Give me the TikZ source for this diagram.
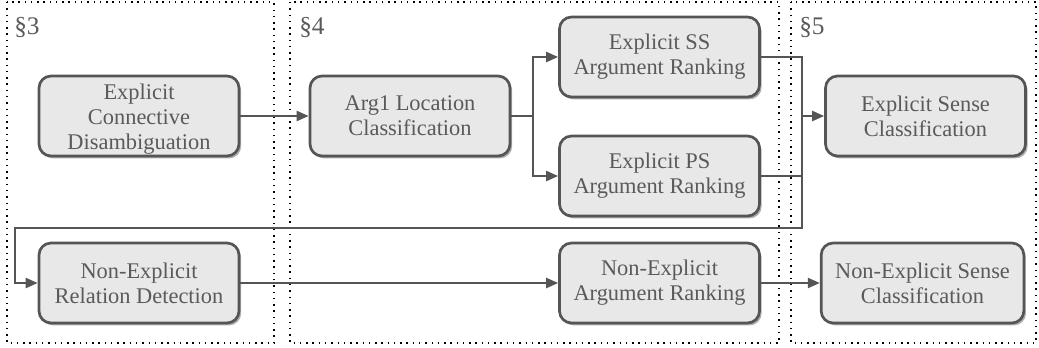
\documentclass[tikz,border=0pt]{standalone}
\usepackage{fontspec}
\setmainfont{Liberation Serif}
\usetikzlibrary{arrows.meta,shadows}
\definecolor{ink}{HTML}{555555}
\definecolor{boxfill}{HTML}{E8E8E8}
\definecolor{txt}{HTML}{5A5A5A}
\tikzset{
  stage/.style={draw=ink, line width=2pt, fill=boxfill, rounded corners=9pt,
    minimum width=150pt, minimum height=60pt, inner sep=0pt, align=center,
    text=txt, font=\fontsize{16.8}{18.6}\selectfont,
    drop shadow={shadow xshift=1.6pt, shadow yshift=-1.8pt, opacity=0.45, fill=black!70}},
  conn/.style={draw=ink, line width=1.7pt},
  arr/.style={conn, -{Triangle[length=9pt,width=7.5pt]}},
  region/.style={draw=black, line width=1.1pt, dash pattern=on 1.1pt off 3.6pt},
  seclabel/.style={text=txt, font=\fontsize{19}{20}\selectfont, anchor=west, inner sep=0pt}
}
\begin{document}
\begin{tikzpicture}[x=0.75pt,y=-0.75pt]
\useasboundingbox (0,0) rectangle (1039,347);
% regions
\draw[region] (7,2) rectangle (274,343);
\draw[region] (290,2) rectangle (779,343);
\draw[region] (791,2) rectangle (1036,343);
\node[seclabel] (s3) at (14,27) {§3};
\node[seclabel] (s4) at (299,27) {§4};
\node[seclabel] (s5) at (799,27) {§5};
% stages
\node[stage] (ecd) at (139,116) {\rule{0pt}{16pt}Explicit\\Connective\\Disambiguation};
\node[stage] (arg1) at (410,116) {Arg1 Location\\Classification};
\node[stage] (ss) at (659.5,57) {Explicit SS\\Argument Ranking};
\node[stage] (ps) at (659.5,176) {Explicit PS\\Argument Ranking};
\node[stage] (esc) at (925.5,116) {Explicit Sense\\Classification};
\node[stage] (nerd) at (139,283) {Non-Explicit\\Relation Detection};
\node[stage] (near) at (659.5,283) {Non-Explicit\\Argument Ranking};
\node[stage, minimum width=152pt] (nesc) at (922.5,283) {Non-Explicit Sense\\Classification};
% junctions
\coordinate (split) at (533,116);
\coordinate (merge) at (802,116);
\coordinate (loopR) at (802,228);
\coordinate (loopL) at (15,228);
% connectors
\draw[arr] (ecd.east) -- (arg1.west);
\draw[conn] (arg1.east) -- (split);
\draw[arr] (split) |- (ss.west);
\draw[arr] (split) |- (ps.west);
\draw[conn] (ss.east) -| (merge);
\draw[conn] (ps.east) -| (merge);
\draw[arr] (merge) -- (esc.west);
\draw[arr] (ps.east) -| (loopR) -- (loopL) |- (nerd.west);
\draw[arr] (nerd.east) -- (near.west);
\draw[arr] (near.east) -- (nesc.west);
\end{tikzpicture}
\end{document}
